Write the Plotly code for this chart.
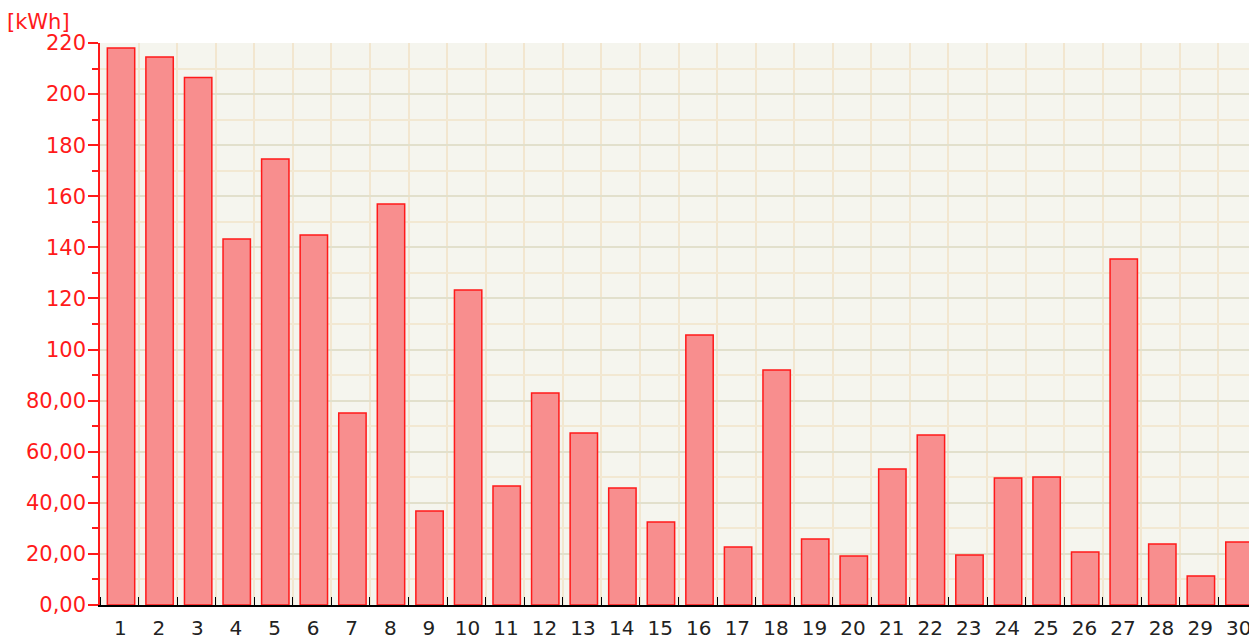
import plotly.graph_objects as go

days = list(range(1, 31))
energy_kwh = [218, 214.5, 206.5, 143.3, 174.6, 144.8, 75.2, 157, 36.8, 123.3,
              46.6, 83, 67.3, 45.8, 32.5, 105.7, 22.7, 92, 25.8, 19.2,
              53.2, 66.5, 19.6, 49.7, 50.1, 20.7, 135.4, 23.9, 11.4, 24.7]
y_tick_vals = [0, 20, 40, 60, 80, 100, 120, 140, 160, 180, 200, 220]
y_tick_text = ["0,00", "20,00", "40,00", "60,00", "80,00", "100", "120", "140",
               "160", "180", "200", "220"]
unit_label = "[kWh]"

FONT = "DejaVu Sans, Verdana, sans-serif"

fig = go.Figure(go.Bar(
    x=days, y=energy_kwh, width=0.71, offset=-0.31,
    marker=dict(color="rgba(248,142,142,1)", line=dict(color="#ff1a1a", width=1.5)),
))

fig.update_layout(
    width=1249, height=633,
    margin=dict(l=92, r=0, t=35, b=36),
    paper_bgcolor="white", plot_bgcolor="#f5f5ee",
    showlegend=False,
    font=dict(family=FONT),
)

fig.update_xaxes(
    range=[0.5, 30.5], tickvals=days, ticktext=[str(d) for d in days],
    ticks="", showgrid=False, zeroline=False,
    showline=True, linecolor="black", linewidth=1.5,
    tickfont=dict(size=20, color="#222"), ticklabelshift=1, ticklabelstandoff=4,
    minor=dict(tickvals=[d + 0.5 for d in range(0, 31)], ticks="inside",
               ticklen=8, tickcolor="black", showgrid=True,
               gridcolor="#f2e6cf", gridwidth=2),
)

fig.update_yaxes(
    range=[0, 220], tickvals=y_tick_vals, ticktext=y_tick_text,
    ticks="outside", ticklen=10, tickcolor="#ff1a1a", tickwidth=1.5,
    showline=True, linecolor="#ff1a1a", linewidth=1.5,
    showgrid=True, gridcolor="#e2e0cc", gridwidth=2, zeroline=False,
    tickfont=dict(size=21, color="#ff1a1a"), ticklabelstandoff=-2,
    minor=dict(dtick=10, tick0=0, ticks="outside", ticklen=6, tickcolor="#ff1a1a",
               showgrid=True, gridcolor="#f2e8d2", gridwidth=2),
)

fig.add_annotation(
    text=unit_label, xref="paper", yref="paper", x=0, y=1,
    xanchor="right", yanchor="middle", xshift=-28, yshift=21,
    showarrow=False, font=dict(size=21, color="#ff1a1a", family=FONT),
)

fig.write_html("out.html")
